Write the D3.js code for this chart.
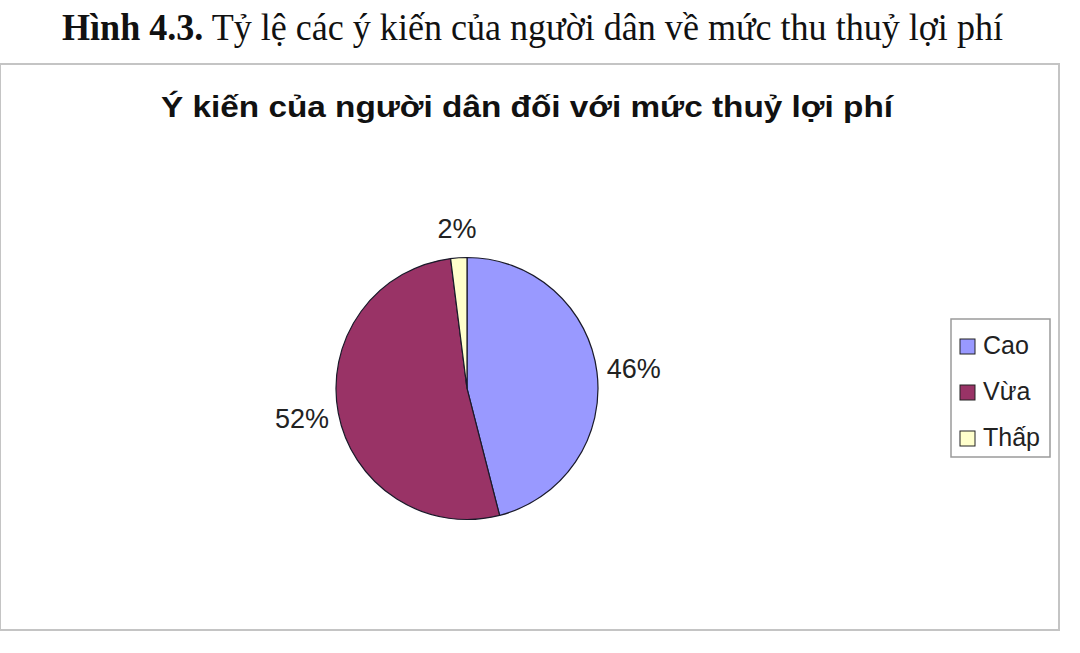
<!DOCTYPE html>
<html>
<head>
<meta charset="utf-8">
<script src="https://cdn.jsdelivr.net/npm/d3@7"></script>
<style>
  body { margin: 0; background: #fff; }
  svg { display: block; }
</style>
</head>
<body>
<svg id="chart" width="1080" height="653"></svg>
<script>
// Chart data
const categories = ["Cao", "Vừa", "Thấp"];
const values = [46, 52, 2];
const colors = ["#9999FF", "#993366", "#FFFFCC"];
const captionBold = "Hình 4.3.";
const captionText = " Tỷ lệ các ý kiến của người dân về mức thu thuỷ lợi phí";
const chartTitle = "Ý kiến của người dân đối với mức thuỷ lợi phí";

let svg = d3.select("#chart");

// Figure caption above the chart box
svg.append("text")
    .attr("x", 62)
    .attr("y", 40)
    .attr("textLength", 941)
    .attr("lengthAdjust", "spacingAndGlyphs")
    .style("font-family", "'Liberation Serif', 'Times New Roman', serif")
    .style("font-size", "38px")
    .style("fill", "#111")
    .call(t => {
        t.append("tspan").style("font-weight", "bold").text(captionBold);
        t.append("tspan").text(captionText);
    });

// Chart area border
svg.append("rect")
    .attr("x", 0)
    .attr("y", 64)
    .attr("width", 1059)
    .attr("height", 566)
    .attr("fill", "#fff")
    .attr("stroke", "#c4c4c4")
    .attr("stroke-width", 2);

// Chart title
svg.append("text")
    .attr("x", 161)
    .attr("y", 117)
    .attr("textLength", 732)
    .attr("lengthAdjust", "spacingAndGlyphs")
    .style("font-family", "'Liberation Sans', Arial, sans-serif")
    .style("font-weight", "bold")
    .style("font-size", "30px")
    .style("fill", "#111")
    .text(chartTitle);

// Pie
let cx = 467, cy = 388.5, radius = 131;

let pie = d3.pie().sort(null).value(d => d)(values);
let arc = d3.arc().innerRadius(0).outerRadius(radius);

let pieGroup = svg.append("g")
    .attr("transform", `translate(${cx},${cy})`);

pieGroup.selectAll("path")
    .data(pie)
    .join("path")
    .attr("d", arc)
    .attr("fill", (d, i) => colors[i])
    .attr("stroke", "#1a1a2a")
    .attr("stroke-width", 1.2);

// Percentage labels outside each slice
let pad = 10, halfW = 27, halfH = 20;
pieGroup.selectAll("text.pct")
    .data(pie)
    .join("text")
    .attr("class", "pct")
    .each(function(d) {
        let a = (d.startAngle + d.endAngle) / 2,
            dx = Math.sin(a),
            dy = -Math.cos(a),
            w = d.data < 10 ? 20 : halfW,
            x = dx * (radius + pad) + dx * w,
            y = dy * (radius + pad) + dy * halfH;
        d3.select(this)
            .attr("x", x)
            .attr("y", y)
            .attr("dy", "0.36em");
    })
    .attr("text-anchor", "middle")
    .style("font-family", "'Liberation Sans', Arial, sans-serif")
    .style("font-size", "27px")
    .style("fill", "#222")
    .text(d => d.data + "%");

// Legend
let legend = svg.append("g");

legend.append("rect")
    .attr("x", 951)
    .attr("y", 319)
    .attr("width", 99)
    .attr("height", 138)
    .attr("fill", "#fff")
    .attr("stroke", "#9a9a9a")
    .attr("stroke-width", 1.5);

let rowY = d3.scalePoint().domain(categories).range([354, 446]);

let items = legend.selectAll("g.item")
    .data(categories)
    .join("g")
    .attr("class", "item")
    .attr("transform", d => `translate(960,${rowY(d)})`);

items.append("rect")
    .attr("x", 0)
    .attr("y", -15)
    .attr("width", 15)
    .attr("height", 15)
    .attr("fill", (d, i) => colors[i])
    .attr("stroke", "#222")
    .attr("stroke-width", 1);

items.append("text")
    .attr("x", 23)
    .attr("y", 0)
    .style("font-family", "'Liberation Sans', Arial, sans-serif")
    .style("font-size", "25px")
    .style("fill", "#222")
    .text(d => d);
</script>
</body>
</html>
